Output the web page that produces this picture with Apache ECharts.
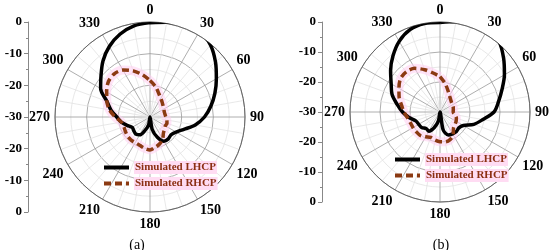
<!DOCTYPE html>
<html lang="en">
<head>
<meta charset="UTF-8">
<title>Polar patterns</title>
<script src="https://cdn.jsdelivr.net/npm/echarts@6/dist/echarts.min.js"></script>
<style>
  html, body { margin: 0; padding: 0; background: #fff; }
  #container { width: 550px; height: 250px; }
</style>
</head>
<body>
<div id="container"></div>
<script>
    // angles in degrees, 0 at top, clockwise
    var angles = [0, 10, 20, 30, 40, 50, 60, 70, 80, 90, 100, 110, 120, 130, 140, 150, 160, 170, 180,
                  190, 200, 210, 220, 230, 240, 250, 260, 270, 280, 290, 300, 310, 320, 330, 340, 350, 360];

    // (a) gain in dB
    var lhcpA = [-0.2, 0.4, 1.2, 1.3, -0.3, -3.0, -5.8, -8.2, -10.5, -12.8, -15.5, -18.6, -20.5, -21.3, -21.0, -21.2, -23.2, -26, -30,
                 -27.5, -25.6, -23.5, -23, -23.3, -23.5, -22.3, -20.8, -19.5, -17.5, -15.5, -12, -9.8, -6.9, -4.3, -2.2, -0.8, -0.2];
    var rhcpA = [-18.5, -20.2, -22, -23.2, -24, -24.6, -25, -25.2, -25.2, -25, -24.6, -24.3, -24.4, -24, -23.4, -22, -21, -20.3, -19.6,
                 -20, -20.5, -20.7, -20.6, -20.7, -21, -21.2, -20.8, -19, -17, -15.5, -14.2, -12.8, -12.3, -12.9, -14.5, -16.5, -18.5];

    // (b) gain in dB
    var lhcpB = [-0.2, 0.6, 1.3, 1.3, 0.6, -2.3, -5.2, -8.0, -10.2, -12, -15.5, -18, -21, -21.8, -21.5, -21.6, -21.8, -24, -30,
                 -27, -24.5, -22.6, -22.8, -22, -21.8, -21.4, -19.5, -17.5, -15.5, -13, -11.2, -8.5, -5.6, -2.8, -0.8, -0.1, -0.2];
    var rhcpB = [-18.2, -20.3, -22.3, -23.7, -24.5, -25, -25.2, -25.3, -25.5, -25.6, -25, -24.2, -23.8, -23.5, -23, -21.2, -20.2, -19.9, -20.1,
                 -20.5, -21, -20.5, -19.8, -19.7, -19.6, -19.5, -19, -18, -17, -15.5, -14.2, -12.8, -12.5, -13.2, -15, -16.8, -18.2];

    // labels of the vertical scale next to each plot
    var sideLabels = ['0', '-10', '-20', '-30', '-20', '-10', '0'];
    var panelNames = ['(a)', '(b)'];
    var seriesNames = ['Simulated LHCP', 'Simulated RHCP'];

    var serif = 'Liberation Serif';
    var toPairs = function (vals) {
        return vals.map(function (v, i) { return [v, angles[i]]; });
    };

    var panels = [
        {cx: 150, cy: 117, r: 95, axisX: 28, lhcp: lhcpA, rhcp: rhcpA, legendLeft: 102, legendTop: 161, titleX: 132},
        {cx: 440, cy: 112, r: 90, axisX: 322, lhcp: lhcpB, rhcp: rhcpB, legendLeft: 393, legendTop: 153, titleX: 436}
    ];

    var polar = [], angleAxis = [], radiusAxis = [], grid = [], xAxis = [], yAxis = [],
        legend = [], title = [], series = [];

    panels.forEach(function (p, k) {
        polar.push({center: [p.cx, p.cy], radius: p.r});
        angleAxis.push({
            polarIndex: k,
            type: 'value',
            min: 0, max: 360, interval: 30,
            startAngle: 90, clockwise: true,
            axisLine: {lineStyle: {color: '#666', width: 1}},
            axisTick: {show: false},
            axisLabel: {margin: 5, color: '#000', fontFamily: serif, fontWeight: 'bold', fontSize: 14},
            splitLine: {show: true, lineStyle: {color: '#999', width: 0.8}},
            minorTick: {show: false, splitNumber: 3},
            minorSplitLine: {show: true, lineStyle: {color: '#e2e2e2', width: 0.8}}
        });
        radiusAxis.push({
            polarIndex: k,
            type: 'value',
            min: -30, max: 0, interval: 10,
            axisLine: {show: false},
            axisTick: {show: false},
            axisLabel: {show: false},
            splitLine: {show: true, lineStyle: {color: '#999', width: 0.8}},
            minorTick: {show: false, splitNumber: 2},
            minorSplitLine: {show: true, lineStyle: {color: '#e2e2e2', width: 0.8}}
        });

        // vertical dB scale
        grid.push({left: p.axisX, top: p.cy - p.r, width: 1, height: 2 * p.r});
        xAxis.push({gridIndex: k, type: 'value', show: false});
        yAxis.push({
            gridIndex: k,
            type: 'value',
            min: -30, max: 30, interval: 10,
            axisLine: {show: true, lineStyle: {color: '#888'}},
            axisTick: {show: true, length: 4, lineStyle: {color: '#888'}},
            minorTick: {show: true, splitNumber: 2, length: 2, lineStyle: {color: '#888'}},
            splitLine: {show: false},
            axisLabel: {
                margin: 6, color: '#000', fontFamily: serif, fontWeight: 'bold', fontSize: 13,
                formatter: function (v) { return sideLabels[Math.round((30 - v) / 10)]; }
            }
        });

        legend.push({
            left: p.legendLeft, top: p.legendTop,
            padding: 0,
            orient: 'vertical',
            itemGap: 3,
            itemWidth: 25, itemHeight: 11,
            data: seriesNames,
            itemStyle: {opacity: 0},
            lineStyle: {width: 4},
            textStyle: {
                color: '#8b2f12', fontFamily: serif, fontWeight: 'bold', fontSize: 11,
                backgroundColor: '#ffdcf3', padding: [1, 1]
            }
        });

        title.push({
            text: panelNames[k],
            left: p.titleX, top: 233, textAlign: 'center',
            textStyle: {color: '#000', fontFamily: serif, fontWeight: 'normal', fontSize: 14}
        });

        // pink highlight under the dashed curve
        series.push({
            type: 'line', coordinateSystem: 'polar', polarIndex: k,
            data: toPairs(p.rhcp), smooth: 0.3, symbol: 'none', clip: false, silent: true,
            lineStyle: {color: '#ffcdf0', width: 9, opacity: 0.55},
            z: 1
        });
        series.push({
            name: seriesNames[0],
            type: 'line', coordinateSystem: 'polar', polarIndex: k,
            data: toPairs(p.lhcp), smooth: 0.3, symbol: 'none', clip: false,
            color: '#000',
            lineStyle: {color: '#000', width: 3.5},
            z: 3
        });
        series.push({
            name: seriesNames[1],
            type: 'line', coordinateSystem: 'polar', polarIndex: k,
            data: toPairs(p.rhcp), smooth: 0.3, symbol: 'none', clip: false,
            color: '#8b3a12',
            lineStyle: {color: '#8b3a12', width: 3.5, type: [7, 4]},
            z: 4
        });
    });

    var myChart = echarts.init(document.getElementById('container'));
    myChart.setOption({
        backgroundColor: '#fff',
        animation: false,
        title: title,
        legend: legend,
        polar: polar,
        angleAxis: angleAxis,
        radiusAxis: radiusAxis,
        grid: grid,
        xAxis: xAxis,
        yAxis: yAxis,
        series: series
    });
</script>
</body>
</html>
